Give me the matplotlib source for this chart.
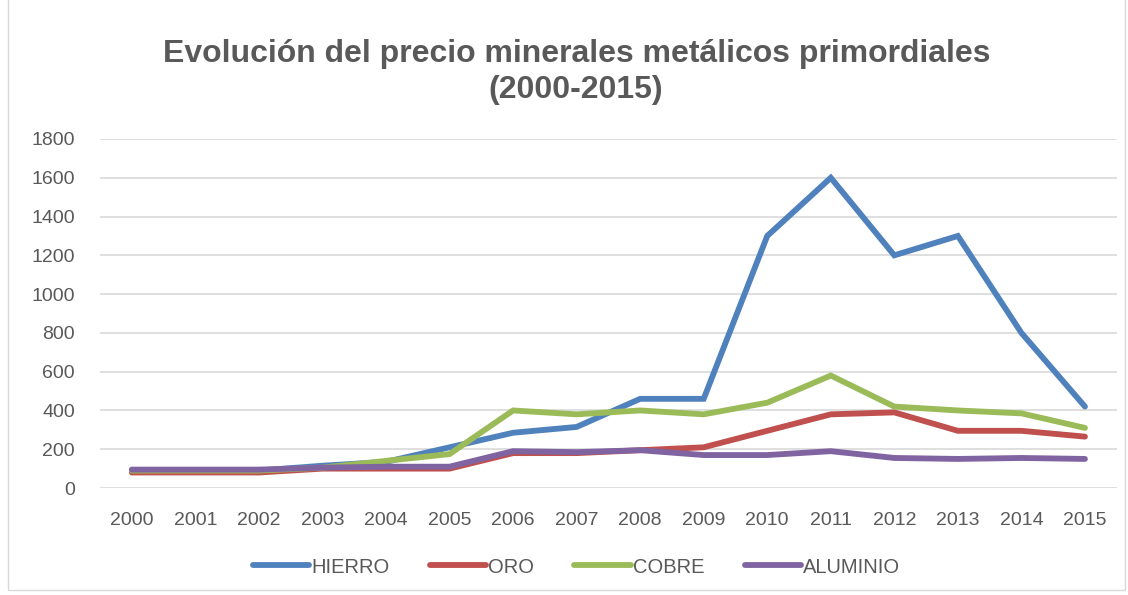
import matplotlib.pyplot as plt
import matplotlib.patches as patches
import numpy as np

years = [str(y) for y in range(2000, 2016)]
hierro = [90, 90, 90, 115, 135, 210, 285, 315, 460, 460, 1300, 1600, 1200, 1300, 800, 420]
oro = [80, 80, 80, 100, 100, 100, 180, 180, 195, 210, 295, 380, 390, 295, 295, 265]
cobre = [90, 90, 90, 105, 140, 175, 400, 380, 400, 380, 440, 580, 420, 400, 385, 310]
aluminio = [95, 95, 95, 105, 110, 110, 190, 185, 195, 170, 170, 190, 155, 150, 155, 150]

series = [("HIERRO", hierro, "#4F81BD"),
          ("ORO", oro, "#C0504D"),
          ("COBRE", cobre, "#9BBB59"),
          ("ALUMINIO", aluminio, "#8064A2")]

plt.rcParams['font.family'] = ['Liberation Sans', 'DejaVu Sans']
grey = "#595959"

fig = plt.figure(figsize=(11.28, 5.95), dpi=100)
ax = fig.add_axes([0.0887, 0.1798, 0.9013, 0.5866])

x = np.arange(len(years))
for name, vals, col in series:
    ax.plot(x, vals, color=col, linewidth=4.2, label=name, solid_capstyle="round", solid_joinstyle="miter")

ax.set_xlim(-0.5, len(years) - 0.5)
ax.set_ylim(0, 1800)
ax.set_yticks(np.arange(0, 1801, 200))
ax.set_xticks(x)
ax.set_xticklabels(years)
ax.grid(axis="y", color="#D9D9D9", linewidth=1.2)
ax.set_axisbelow(True)
for s in ax.spines.values():
    s.set_visible(False)
ax.tick_params(length=0, labelsize=14, labelcolor=grey)
ax.tick_params(axis="x", pad=17)
ax.tick_params(axis="y", pad=18)

# titulo en dos lineas
fig.text(0.5115, 0.910, "Evolución del precio minerales metálicos primordiales", ha="center", va="center",
         fontsize=23, fontweight="bold", color=grey)
fig.text(0.5105, 0.848, "(2000-2015)", ha="center", va="center",
         fontsize=23, fontweight="bold", color=grey)

leg = fig.legend(loc="center", bbox_to_anchor=(0.511, 0.047), ncol=4, frameon=False,
                 fontsize=14.5, handlelength=2.8, columnspacing=2.0, handletextpad=0.1)
for t in leg.get_texts():
    t.set_color(grey)

fig.patches.append(patches.Rectangle((0.007, 0.008), 0.99, 1.1, transform=fig.transFigure,
                                     fill=False, edgecolor="#D9D9D9", linewidth=1))

fig.savefig("out.png", dpi=100)
